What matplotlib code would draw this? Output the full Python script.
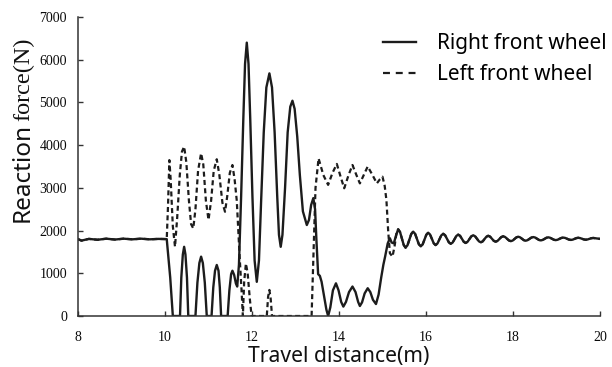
import matplotlib
matplotlib.use("Agg")
import matplotlib.pyplot as plt
from matplotlib.lines import Line2D

# ---------------- data ----------------
# steady part before the obstacle (both wheels)
base_x = [8.00, 8.08, 8.25, 8.45, 8.65, 8.85, 9.05, 9.25, 9.45, 9.65, 9.85, 10.04]
base_y = [1800, 1765, 1805, 1785, 1810, 1790, 1810, 1795, 1810, 1795, 1805, 1800]

# right front wheel (solid) during the obstacle
right_mid_x = [10.12, 10.18, 10.345, 10.375, 10.41, 10.44, 10.47, 10.505, 10.535,
               10.70, 10.745, 10.79, 10.83, 10.87, 10.915, 10.96,
               11.07, 11.11, 11.15, 11.19, 11.23, 11.26, 11.29,
               11.44, 11.48, 11.52, 11.55, 11.59, 11.63, 11.66,
               11.70, 11.75, 11.80, 11.84, 11.88, 11.92, 11.96, 12.01, 12.06, 12.11,
               12.16, 12.21, 12.27, 12.33, 12.40, 12.46, 12.52, 12.58, 12.62, 12.66,
               12.70, 12.76, 12.82, 12.88, 12.93, 12.98, 13.04, 13.10, 13.17, 13.26,
               13.31, 13.36, 13.41, 13.45, 13.48, 13.52, 13.56, 13.60, 13.66, 13.71,
               13.75, 13.80, 13.86, 13.93, 13.99, 14.05, 14.10, 14.16, 14.23, 14.31,
               14.38, 14.44, 14.48, 14.53, 14.59, 14.66, 14.72, 14.78, 14.85, 14.91,
               14.97, 15.02, 15.06, 15.12, 15.17, 15.21, 15.26, 15.31]
right_mid_y = [900, 0, 0, 900, 1440, 1620, 1440, 900, 0,
               0, 780, 1240, 1390, 1240, 780, 0,
               0, 670, 1060, 1195, 1060, 670, 0,
               0, 600, 980, 1060, 960, 760, 690,
               1200, 2800, 4600, 5900, 6400, 5900, 4600, 2800, 1300, 800,
               1300, 2700, 4300, 5350, 5680, 5350, 4300, 2800, 1900, 1620,
               1900, 3000, 4300, 4900, 5040, 4850, 4200, 3300, 2450, 2130,
               2250, 2600, 2760, 2500, 1800, 980, 940, 800, 450, 150,
               0, 200, 600, 765, 600, 330, 220, 330, 560, 690,
               560, 330, 234, 320, 530, 650, 560, 380, 280, 500,
               900, 1200, 1390, 1700, 1820, 1720, 1700, 1880]

# left front wheel (dashed) during the obstacle
left_mid_x = [10.07, 10.10, 10.13, 10.18, 10.23, 10.28, 10.34, 10.39, 10.44, 10.49,
              10.55, 10.60, 10.65, 10.70, 10.76, 10.83, 10.88, 10.94, 11.00, 11.06,
              11.12, 11.19, 11.25, 11.32, 11.38, 11.43, 11.49, 11.55, 11.60, 11.65,
              11.69, 11.72, 11.76, 11.79, 11.82, 11.86, 11.90, 11.95, 11.99,
              12.34, 12.37, 12.40, 12.43, 12.46,
              13.37, 13.42, 13.46, 13.53, 13.64, 13.75, 13.85, 13.95, 14.04, 14.12,
              14.22, 14.31, 14.40, 14.48, 14.57, 14.66, 14.77, 14.87, 14.94, 15.00,
              15.05, 15.09, 15.13, 15.17, 15.23, 15.28, 15.32]
left_mid_y = [2600, 3650, 3200, 2100, 1620, 2300, 3300, 3850, 3965, 3600,
              2700, 2150, 2050, 2500, 3400, 3810, 3550, 2700, 2250, 2700,
              3400, 3670, 3300, 2650, 2440, 2800, 3350, 3535, 3200, 2700,
              1900, 1310, 600, 0, 800, 1230, 1000, 400, 0,
              0, 450, 610, 400, 0,
              0, 1700, 3000, 3690, 3300, 3070, 3350, 3560, 3250, 2990,
              3300, 3535, 3300, 3105, 3300, 3500, 3300, 3105, 3200, 3260,
              3050, 2715, 2000, 1470, 1390, 1650, 1935]

# decaying oscillation after the obstacle (both wheels)
tail_x = [15.36, 15.403, 15.488, 15.53, 15.574, 15.661, 15.705, 15.749, 15.836,
          15.88, 15.923, 16.008, 16.05, 16.093, 16.178, 16.22, 16.264, 16.351,
          16.395, 16.439, 16.526, 16.57, 16.613, 16.698, 16.74, 16.783, 16.868,
          16.91, 16.954, 17.041, 17.085, 17.129, 17.216, 17.26, 17.303, 17.388,
          17.43, 17.473, 17.558, 17.60, 17.644, 17.731, 17.775, 17.819, 17.906,
          17.95, 17.993, 18.078, 18.12, 18.163, 18.248, 18.29, 18.334, 18.421,
          18.465, 18.509, 18.596, 18.64, 18.683, 18.768, 18.81, 18.853, 18.938,
          18.98, 19.024, 19.111, 19.155, 19.199, 19.286, 19.33, 19.373, 19.458,
          19.50, 19.543, 19.628, 19.67, 19.714, 19.801, 19.845, 19.92, 20.00]
tail_y = [2030, 1967, 1663, 1600, 1655, 1920, 1975, 1925, 1680,
          1630, 1677, 1903, 1950, 1908, 1702, 1660, 1699, 1886,
          1925, 1891, 1724, 1690, 1721, 1874, 1905, 1877, 1738,
          1710, 1736, 1864, 1890, 1866, 1749, 1725, 1747, 1856,
          1878, 1858, 1760, 1740, 1758, 1848, 1866, 1849, 1769,
          1752, 1767, 1841, 1856, 1842, 1776, 1762, 1775, 1835,
          1848, 1837, 1781, 1770, 1781, 1831, 1842, 1832, 1786,
          1776, 1785, 1827, 1836, 1828, 1789, 1781, 1788, 1824,
          1831, 1824, 1793, 1786, 1792, 1821, 1827, 1817, 1805]

right_x = base_x + right_mid_x + tail_x
right_y = base_y + right_mid_y + tail_y
left_x = base_x + left_mid_x + tail_x
left_y = base_y + left_mid_y + tail_y

x_ticks = [8, 10, 12, 14, 16, 18, 20]
y_ticks = [0, 1000, 2000, 3000, 4000, 5000, 6000, 7000]
labels = ["Right front wheel", "Left front wheel"]

# ---------------- figure ----------------
plt.rcParams['lines.scale_dashes'] = False
W, H = 612, 367
fig = plt.figure(figsize=(W / 100, H / 100), dpi=100)
ax = fig.add_axes([78 / W, 1 - 316 / H, (600 - 78) / W, (316 - 17) / H])

line_col = '#1c1c1c'
ax.plot(right_x, right_y, color=line_col, lw=1.7, solid_joinstyle='round')
ax.plot(left_x, left_y, color=line_col, lw=1.6, dashes=(3.6, 2.4))

ax.set_xlim(8, 20)
ax.set_ylim(0, 7000)
ax.set_xticks(x_ticks)
ax.set_yticks(y_ticks)
for s in ['top', 'right']:
    ax.spines[s].set_visible(False)
for s in ['left', 'bottom']:
    ax.spines[s].set_linewidth(1.1)
    ax.spines[s].set_color('#333333')
ax.tick_params(direction='in', length=3.5, width=1.0, color='#333333',
               labelsize=10, labelcolor='#0a0a0a')
ax.tick_params(axis='y', pad=8)
ax.tick_params(axis='x', pad=11)
for lab in ax.get_xticklabels() + ax.get_yticklabels():
    lab.set_fontfamily('Liberation Serif')

ax.set_xlabel("Travel distance(m)", fontfamily='Noto Sans', fontsize=15.2,
              color='#111111', labelpad=1)

# y label: "Reaction" in sans, "force(N)" in serif
fig.text(23 / W, 1 - 222 / H, "Reaction", rotation=90, ha='center', va='bottom',
         fontfamily='Noto Sans', fontsize=17.5, color='#111111')
fig.text(24 / W, 1 - 121 / H, "force(N)", rotation=90, ha='center', va='bottom',
         fontfamily='Liberation Serif', fontsize=17.5, color='#111111')

handles = [Line2D([], [], color=line_col, lw=1.7),
           Line2D([], [], color=line_col, lw=1.6, dashes=(5.0, 4.2))]
fig.legend(handles, labels, loc='upper left', bbox_to_anchor=(383 / W, 1 - 33 / H),
           frameon=False, borderpad=0, borderaxespad=0, handlelength=1.6,
           handletextpad=1.0, labelspacing=0.5,
           prop={'family': 'Noto Sans', 'size': 15})

fig.savefig('out.png', dpi=100)
